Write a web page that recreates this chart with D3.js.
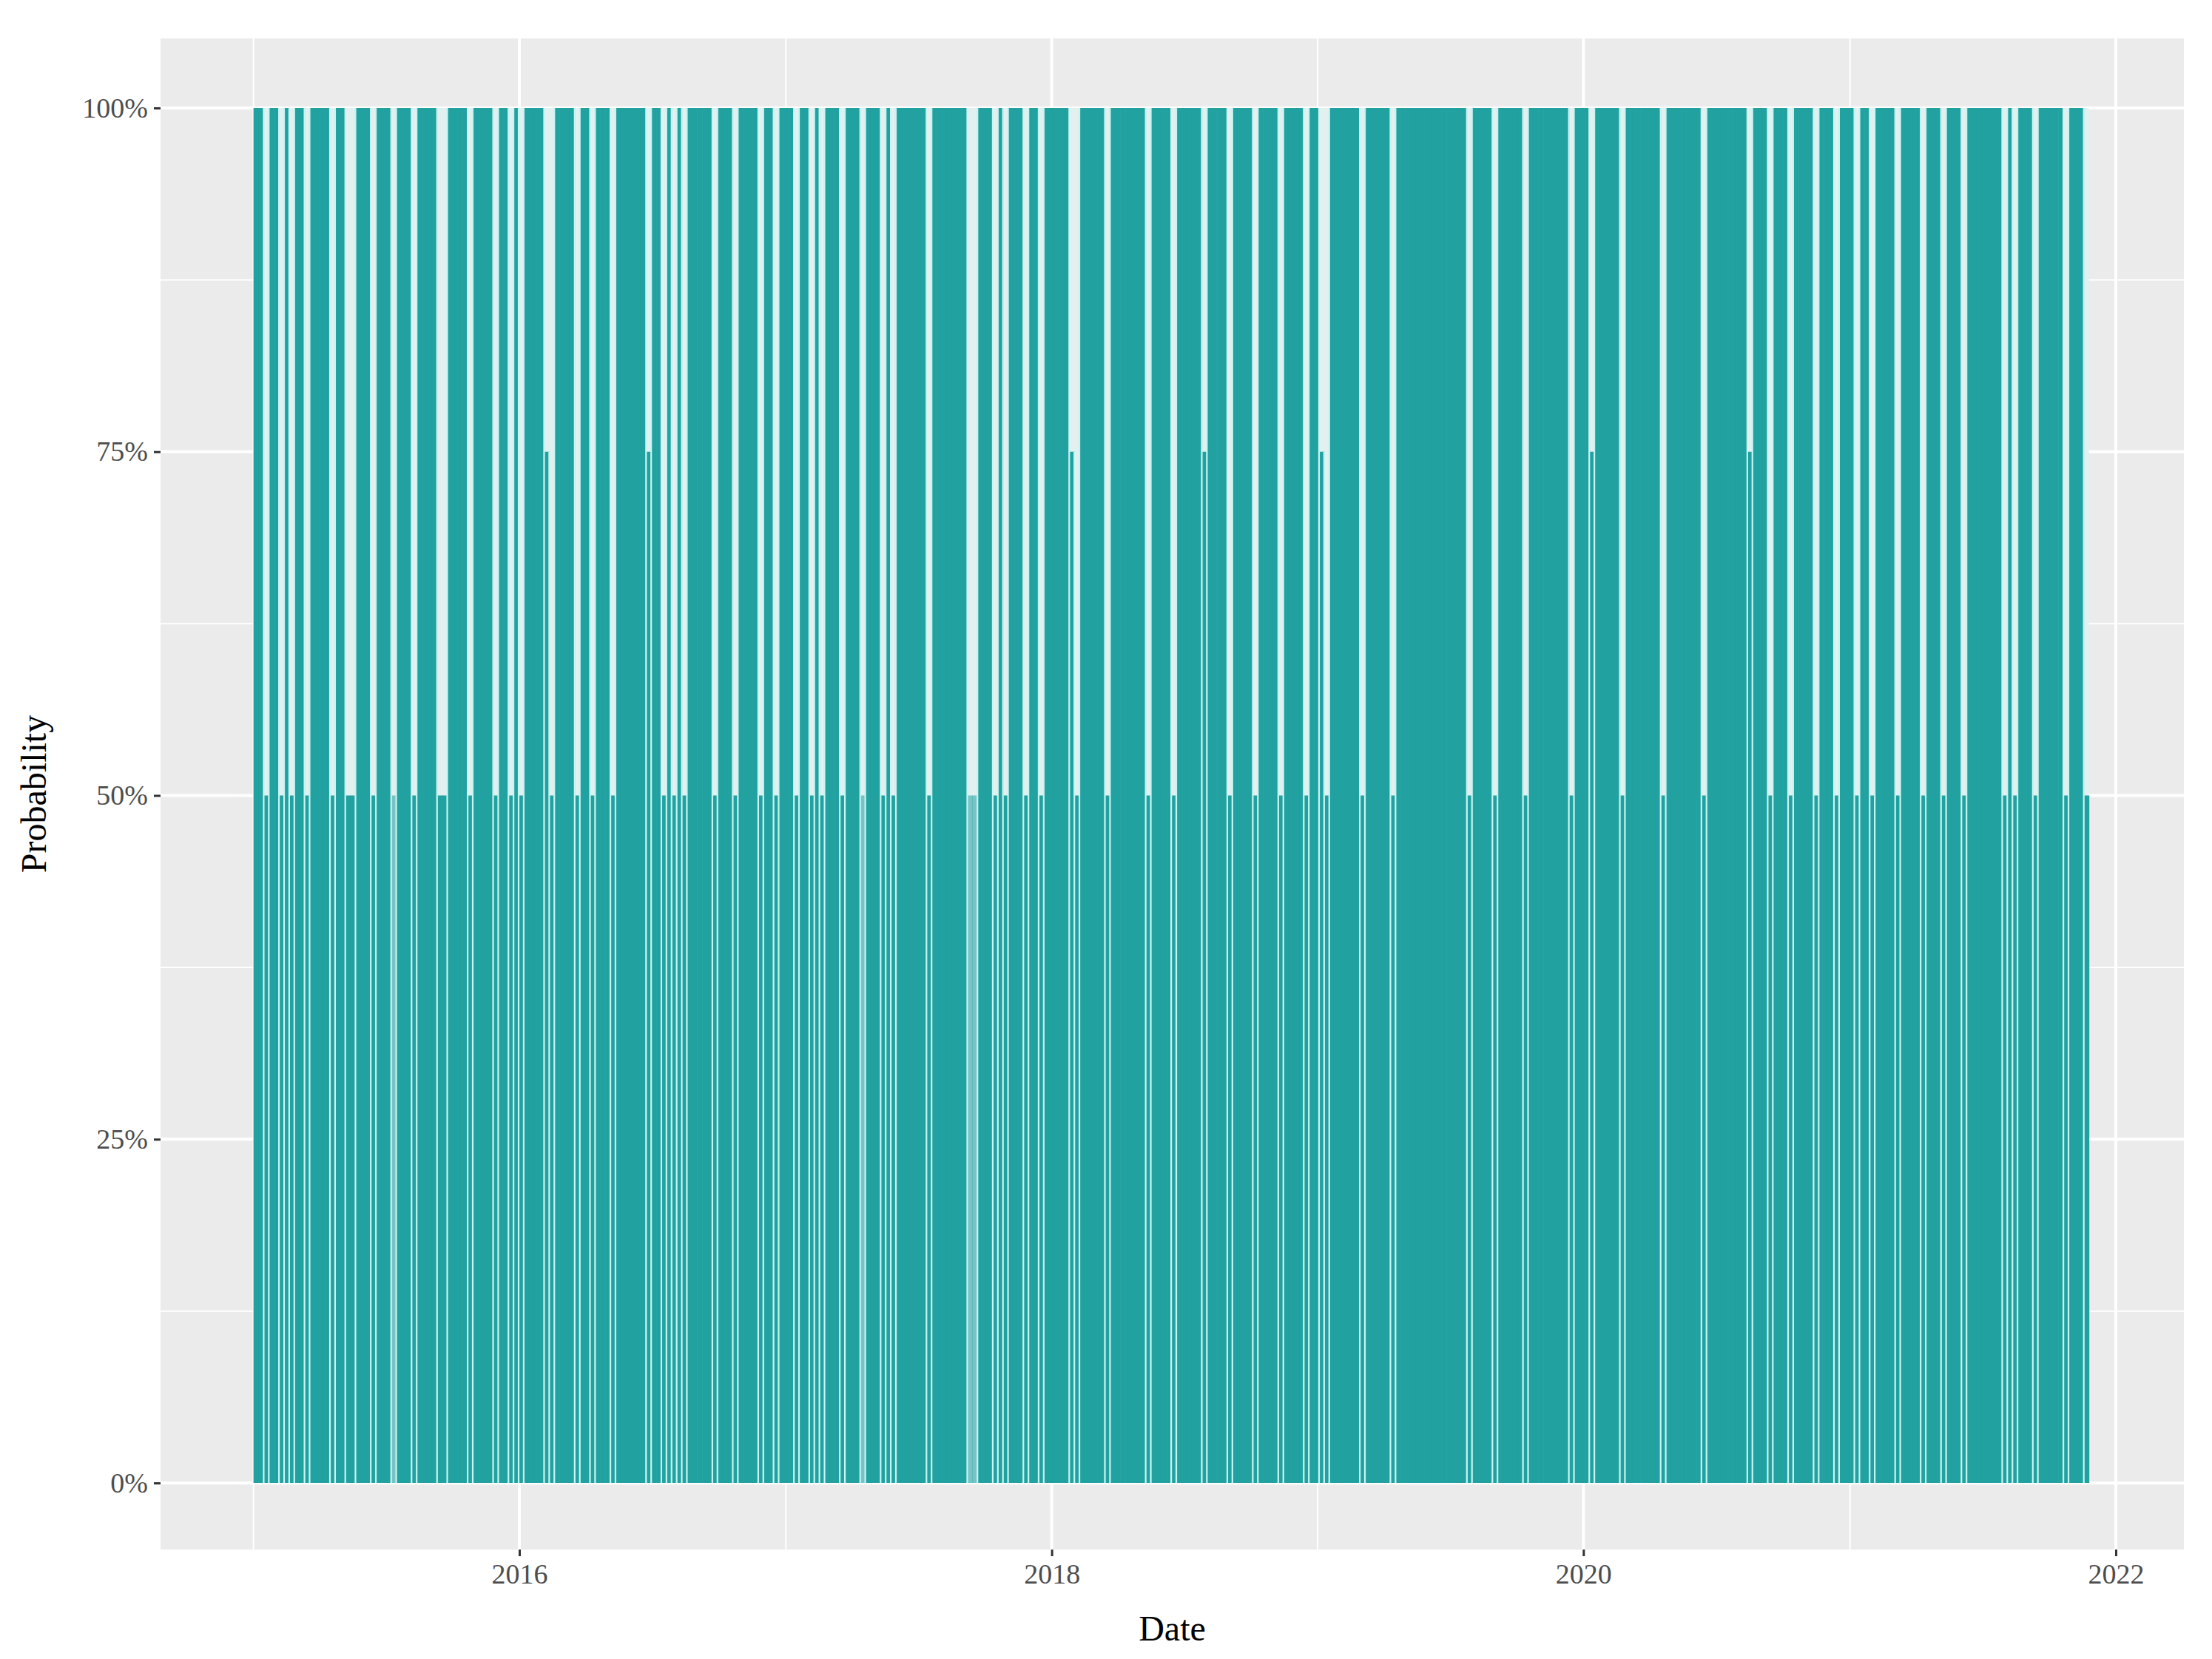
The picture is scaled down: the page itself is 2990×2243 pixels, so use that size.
<!DOCTYPE html>
<html>
<head>
<meta charset="utf-8">
<script src="https://cdn.jsdelivr.net/npm/d3@7"></script>
<style>
  body { margin: 0; background: #fff; }
</style>
</head>
<body>
<svg id="chart" width="2990" height="2243"></svg>
<script>
// weekly probability level codes (0=0%,1=25%,2=50%,3=75%,4=100%), starting 2015-01-01
const weeklyCodes = [
  "4424424244244" + "4424422444244" + "4044424444224" + "4442444424424",
  "2444432444424" + "4244424444443" + "4424242444442" + "4442444424424",
  "4424424244424" + "4404442424444" + "4424444444004" + "4424244424424",
  "4444324444424" + "4444442444424" + "4444344442444" + "4244442444424",
  "4324444442444" + "4424444444444" + "4444244442444" + "4424444444424",
  "4434444424444" + "4442444444424" + "4444444344424" + "4424444244424",
  "4424424444244" + "4424442444244" + "4444424244424" + "444424442"
].join("");
const startDate = new Date(2015, 0, 1);
const yTicks = [0, 0.25, 0.5, 0.75, 1];
const xTickYears = [2016, 2018, 2020, 2022];

const values = weeklyCodes.split("").map(c => +c / 4);
const dates = values.map((v, i) => d3.timeDay.offset(startDate, i * 7));

const svg = d3.select("#chart");
const panel = { left: 217, right: 2952, top: 52, bottom: 2095 };

const x = d3.scaleTime()
  .domain([new Date(2016, 0, 1), new Date(2022, 0, 1)])
  .range([702, 2860]);
const y = d3.scaleLinear().domain([0, 1]).range([2005, 146]);

svg.append("rect")
  .attr("x", panel.left).attr("y", panel.top)
  .attr("width", panel.right - panel.left).attr("height", panel.bottom - panel.top)
  .attr("fill", "#ebebeb");

// minor grid
const minorY = [0.125, 0.375, 0.625, 0.875];
const minorX = [2015, 2017, 2019, 2021].map(yr => new Date(yr, 0, 1));
svg.selectAll(".minorY").data(minorY).join("line")
  .attr("x1", panel.left).attr("x2", panel.right)
  .attr("y1", d => y(d)).attr("y2", d => y(d))
  .attr("stroke", "#fff").attr("stroke-width", 2);
svg.selectAll(".minorX").data(minorX).join("line")
  .attr("y1", panel.top).attr("y2", panel.bottom)
  .attr("x1", d => x(d)).attr("x2", d => x(d))
  .attr("stroke", "#fff").attr("stroke-width", 2);
// major grid
svg.selectAll(".majorY").data(yTicks).join("line")
  .attr("x1", panel.left).attr("x2", panel.right)
  .attr("y1", d => y(d)).attr("y2", d => y(d))
  .attr("stroke", "#fff").attr("stroke-width", 4);
svg.selectAll(".majorX").data(xTickYears).join("line")
  .attr("y1", panel.top).attr("y2", panel.bottom)
  .attr("x1", d => x(new Date(d, 0, 1))).attr("x2", d => x(new Date(d, 0, 1)))
  .attr("stroke", "#fff").attr("stroke-width", 4);

// bars
const step = x(dates[1]) - x(dates[0]);
svg.append("rect")
  .attr("x", x(dates[0])).attr("y", y(1))
  .attr("width", x(dates[dates.length - 1]) + step - x(dates[0]))
  .attr("height", y(0) - y(1))
  .attr("fill", "#e2f0f0");
svg.selectAll(".bar").data(values).join("rect")
  .attr("x", (d, i) => x(dates[i]))
  .attr("width", step + 0.6)
  .attr("y", d => y(Math.max(d, 0.5)))
  .attr("height", d => y(0) - y(Math.max(d, 0.5)))
  .attr("fill", "#21a1a0")
  .attr("fill-opacity", d => d === 0 ? 0.55 : 1);
// thin light separators where the level changes
const changes = values.map((v, i) => i).filter(i => i > 0 && values[i] !== values[i - 1]);
svg.selectAll(".sep").data(changes).join("line")
  .attr("x1", i => x(dates[i])).attr("x2", i => x(dates[i]))
  .attr("y1", i => y(Math.max(values[i], values[i - 1], 0.5))).attr("y2", y(0))
  .attr("stroke", "#c8f4f2").attr("stroke-width", 2.2);

// axes
const font = "Liberation Serif, Times New Roman, serif";
const yAxis = svg.append("g").attr("transform", `translate(${panel.left},0)`)
  .call(d3.axisLeft(y).tickValues(yTicks).tickFormat(d3.format(".0%")).tickSize(9).tickPadding(8));
const xAxis = svg.append("g").attr("transform", `translate(0,${panel.bottom})`)
  .call(d3.axisBottom(x).tickValues(xTickYears.map(yr => new Date(yr, 0, 1)))
    .tickFormat(d3.timeFormat("%Y")).tickSize(9).tickPadding(10));
[yAxis, xAxis].forEach(g => {
  g.select(".domain").remove();
  g.selectAll(".tick line").attr("stroke", "#333").attr("stroke-width", 3);
  g.selectAll("text").attr("font-family", font).attr("font-size", 38).attr("fill", "#4d4d4d");
});

svg.append("text").attr("x", (panel.left + panel.right) / 2).attr("y", 2218)
  .attr("text-anchor", "middle").attr("font-family", font).attr("font-size", 48)
  .attr("fill", "#000").text("Date");
svg.append("text").attr("transform", `translate(62,${(panel.top + panel.bottom) / 2}) rotate(-90)`)
  .attr("text-anchor", "middle").attr("font-family", font).attr("font-size", 48)
  .attr("fill", "#000").text("Probability");
</script>
</body>
</html>
